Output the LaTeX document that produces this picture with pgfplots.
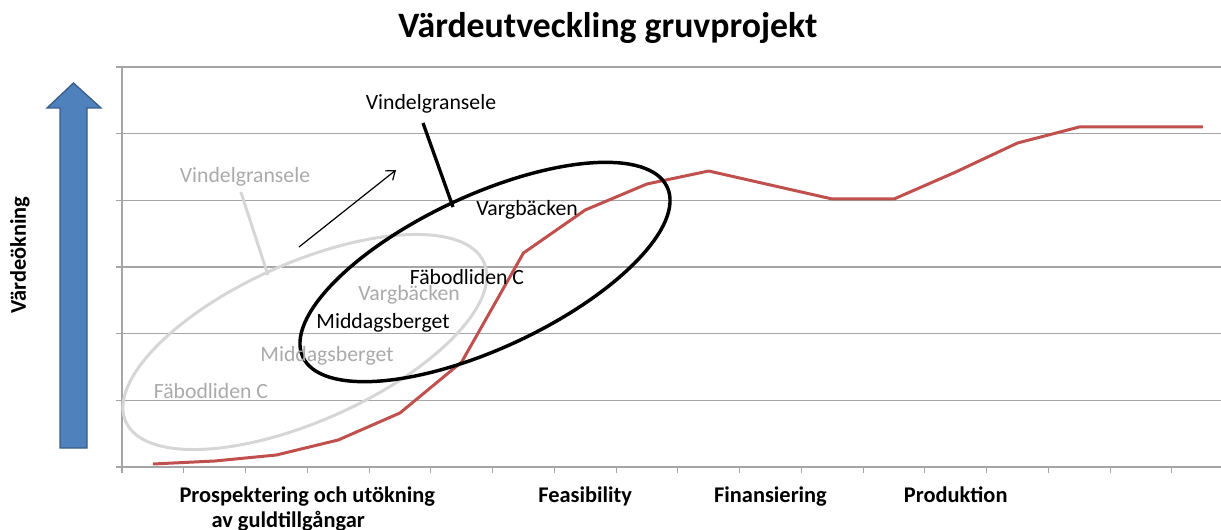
\documentclass[border=0pt]{standalone}
\usepackage{fontspec}
\setmainfont{Carlito}
\usepackage{pgfplots}
\pgfplotsset{compat=1.18}
\usetikzlibrary{arrows.meta}
\definecolor{redline}{RGB}{192,80,77}
\definecolor{gridgray}{RGB}{165,165,165}
\definecolor{ellgray}{RGB}{214,214,214}
\definecolor{graytext}{RGB}{170,170,170}
\definecolor{blueA}{RGB}{79,129,189}
\definecolor{blueB}{RGB}{56,93,138}
\begin{document}
\begin{tikzpicture}
\useasboundingbox (0,0) rectangle (915.75pt,396.75pt);
\begin{axis}[
  at={(91.5pt,46.5pt)}, anchor=south west,
  scale only axis, width=824.25pt, height=300pt,
  xmin=-0.5, xmax=17.295, ymin=0, ymax=6,
  axis x line*=bottom, axis y line*=left,
  axis line style={draw=gridgray, line width=1pt},
  xtick={2.5,7,10,13},
  xticklabels={{Prospektering och utökning\\\hspace*{24pt}av guldtillgångar},Feasibility,Finansiering,Produktion},
  major x tick style={draw=none},
  minor xtick={-0.5,0.5,...,16.5},
  minor tick length=4.5pt,
  ytick={0,1,...,6}, yticklabels={},
  ymajorgrids, grid style={draw=gridgray, line width=1pt},
  tick align=outside, major tick length=4.5pt,
  tick style={draw=gridgray, line width=0.8pt},
  minor x tick style={draw=gridgray, line width=0.8pt},
  xticklabel style={align=left, anchor=north, font=\fontsize{16.8}{18.75}\selectfont\bfseries, yshift=-7pt},
  clip=false,
]
\draw[ellgray, line width=2.25pt] (axis cs:2.461,1.875) ellipse [x radius=147pt, y radius=59.25pt, rotate=24];
\draw[ellgray, line width=2.25pt] (axis cs:{(240-152)/61.76},{(467-192)/66.667}) -- (axis cs:{(267-152)/61.76},{(467-275)/66.667});
\addplot[color=redline, line width=2.25pt, line join=round] coordinates {
(0,0.045) (1,0.09) (2,0.18) (3,0.405) (4,0.81) (5,1.575) (6,3.21) (7,3.855) (8,4.245)
(9,4.44) (10,4.23) (11,4.02) (12,4.02) (13,4.425) (14,4.86) (15,5.1) (16,5.1) (17,5.1)
};
\end{axis}
\begin{scope}[x=0.75pt, y=-0.75pt, shift={(0,396.75pt)}]
\draw[black, line width=2.6pt] (485,272) ellipse [x radius=150.75pt, y radius=57.4pt, rotate=25];
\draw[black, line width=2.5pt] (423,123) -- (453,207);
\draw[black, line width=0.9pt, -{Straight Barb[length=6pt,width=9pt]}] (299,247) -- (396,170);
\filldraw[fill=blueA, draw=blueB, line width=1pt] (60,448)--(87,448)--(87,108)--(101,108)--(73.5,83)--(47,108)--(60,108)--cycle;
\node[rotate=90, font=\fontsize{16.8}{20}\selectfont\bfseries] at (20,255) {Värdeökning};
\node[font=\fontsize{26.8}{30}\selectfont\bfseries] at (608,28) {Värdeutveckling gruvprojekt};
\begin{scope}[every node/.style={font=\fontsize{16.3}{19}\selectfont, inner sep=0pt}]
\node at (431,104) {Vindelgransele};
\node at (527,210) {Vargbäcken};
\node at (467,277) {Fäbodliden C};
\node at (383,323) {Middagsberget};
\node[text=graytext] at (245,177) {Vindelgransele};
\node[text=graytext] at (409,295) {Vargbäcken};
\node[text=graytext] at (327,356) {Middagsberget};
\node[text=graytext] at (211,391) {Fäbodliden C};
\end{scope}
\end{scope}
\end{tikzpicture}
\end{document}
